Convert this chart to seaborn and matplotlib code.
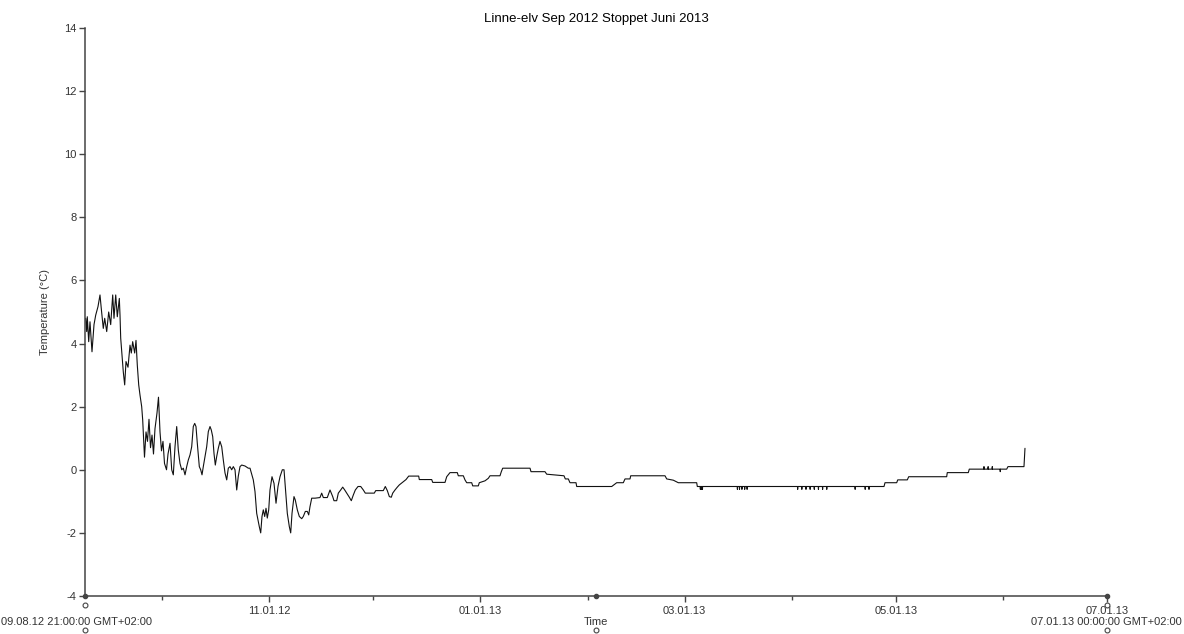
# temperature logger plot, Linne-elv
import pandas as pd
import numpy as np
import seaborn as sns
import matplotlib.pyplot as plt
import matplotlib.dates as mdates

# time axis range
t_start = pd.Timestamp('2012-09-08 21:00:00')
t_end = pd.Timestamp('2013-07-01 00:00:00')

# days since t_start, temperature (degC)
days = [0.20, 0.49, 0.66, 1.07, 1.44, 2.02, 2.60, 3.09, 3.75, 4.33, 4.71, 5.28, 5.69,
        6.27, 6.84, 7.42, 8.00, 8.37, 8.87, 9.33, 9.91, 10.11, 10.31, 11.06, 11.46,
        11.84, 12.42, 13.00, 13.37, 13.77, 14.35, 14.73, 15.10, 15.51, 15.88, 16.37,
        16.66, 17.18, 17.62, 18.05, 18.48, 18.92, 19.35, 19.78, 20.21, 20.79, 21.22,
        21.66, 22.09, 22.52, 22.96, 23.54, 23.97, 24.55, 25.04, 25.50, 25.99, 26.48,
        26.94, 27.43, 27.93, 28.39, 28.88, 29.37, 29.83, 30.32, 30.81, 31.27, 31.68,
        32.05, 32.43, 33.01, 33.41, 33.79, 34.16, 34.65, 35.14, 35.61, 36.10, 36.47,
        36.88, 37.25, 37.63, 38.03, 38.49, 38.98, 39.48, 39.94, 40.43, 40.92, 41.38,
        41.87, 42.36, 42.83, 43.32, 43.81, 44.27, 44.76, 45.25, 46.20, 47.16, 47.65,
        48.60, 49.09, 49.58, 50.33, 50.74, 51.11, 51.49, 51.89, 52.27, 52.64, 53.05,
        53.42, 54.00, 54.58, 55.16, 55.73, 56.31, 56.98, 57.47, 57.84, 58.42, 59.00,
        59.40, 59.78, 60.35, 60.73, 61.31, 61.89, 62.58, 63.04, 63.62, 64.20, 64.60,
        64.97, 65.47, 66.42, 67.86, 68.35, 68.82, 69.97, 70.75, 71.53, 71.90, 72.68,
        73.15, 73.84, 74.42, 75.00, 75.57, 76.33, 76.90, 77.48, 78.06, 78.84, 79.62,
        80.37, 80.94, 81.81, 83.54, 83.95, 86.14, 86.72, 87.30, 87.88, 88.45, 88.86,
        89.52, 90.19, 90.76, 91.34, 91.92, 92.70, 93.48, 96.36, 96.54, 100.12, 100.41,
        103.96, 104.45, 105.40, 107.51, 107.80, 109.25, 109.73, 110.23, 111.67, 111.96,
        113.58, 113.86, 115.51, 116.47, 116.95, 119.84, 120.22, 120.62, 128.51, 128.79,
        132.83, 133.33, 138.32, 138.70, 139.57, 140.05, 141.79, 141.99, 152.10, 153.54,
        155.45, 155.94, 157.38, 157.59, 167.49, 167.98, 169.89, 171.33, 176.64, 176.82,
        177.65, 177.70, 177.75, 177.95, 178.00, 178.05, 178.25, 178.30, 178.35,
        188.35, 188.40, 188.45, 188.95, 189.00, 189.05, 189.65, 189.70, 189.75,
        190.45, 190.50, 190.55, 191.15, 191.20, 191.25,
        205.75, 205.80, 205.85, 206.95, 207.00, 207.05, 208.15, 208.20, 208.25,
        209.35, 209.40, 209.45, 210.55, 210.60, 210.65, 211.75, 211.80, 211.85,
        212.95, 213.00, 213.05, 214.15, 214.20, 214.25,
        222.35, 222.40, 222.45, 225.25, 225.30, 225.35, 226.35, 226.40, 226.45,
        230.73, 231.02, 234.40, 234.69, 237.46, 237.86, 248.83, 249.00, 255.07, 255.36,
        259.55, 259.60, 259.65, 260.75, 260.80, 260.85, 261.95, 262.00, 262.05,
        264.25, 264.30, 264.35,
        266.16, 266.53, 271.15, 271.44]
temps = [4.80, 4.38, 4.85, 4.06, 4.69, 3.74, 4.60, 4.90, 5.17, 5.54, 5.10, 4.48, 4.80,
         4.38, 5.00, 4.60, 5.54, 4.80, 5.54, 4.85, 5.43, 4.90, 4.17, 3.10, 2.69,
         3.43, 3.25, 3.95, 3.70, 4.06, 3.70, 4.10, 3.32, 2.69, 2.37, 2.00,
         1.58, 0.40, 1.20, 0.90, 1.60, 0.70, 1.10, 0.50, 1.30, 1.80, 2.30,
         1.20, 0.60, 0.90, 0.20, 0.00, 0.50, 0.84, 0.00, -0.16, 0.73, 1.37,
         0.63, 0.20, 0.00, 0.05, -0.16, 0.10, 0.31, 0.47, 0.73, 1.37, 1.47,
         1.37, 0.84, 0.10, 0.00, -0.16, 0.10, 0.42, 0.73, 1.21, 1.37, 1.26,
         1.05, 0.52, 0.15, 0.42, 0.68, 0.90, 0.73, 0.31, -0.10, -0.32, 0.05,
         0.10, 0.00, 0.10, 0.00, -0.64, -0.20, 0.10, 0.15, 0.12, 0.05, 0.05,
         -0.32, -0.69, -1.38, -1.80, -2.00, -1.48, -1.27, -1.48, -1.22, -1.53, -1.27,
         -0.64, -0.22, -0.43, -1.06, -0.53, -0.22, 0.00, 0.00, -0.53, -1.38, -1.80,
         -2.00, -1.38, -0.85, -0.96, -1.27, -1.48, -1.55, -1.48, -1.32, -1.32, -1.43,
         -1.17, -0.90, -0.90, -0.88, -0.74, -0.88, -0.88, -0.64, -0.85, -0.98, -0.98,
         -0.74, -0.64, -0.55, -0.64, -0.74, -0.87, -0.98, -0.80, -0.64, -0.53, -0.53,
         -0.64, -0.74, -0.74, -0.74, -0.66, -0.66, -0.53, -0.66, -0.85, -0.87, -0.74,
         -0.64, -0.55, -0.48, -0.43, -0.38, -0.31, -0.20, -0.20, -0.31, -0.31, -0.40,
         -0.40, -0.22, -0.09, -0.09, -0.19, -0.19, -0.32, -0.41, -0.41, -0.51,
         -0.51, -0.41, -0.35, -0.27, -0.19, -0.19, -0.06, 0.05, 0.05, -0.06,
         -0.06, -0.14, -0.19, -0.29, -0.29, -0.41, -0.41, -0.53, -0.53, -0.41,
         -0.41, -0.29, -0.29, -0.19, -0.19, -0.29, -0.33, -0.41, -0.41, -0.53,
         -0.53, -0.62, -0.53, -0.53, -0.62, -0.53, -0.53, -0.62, -0.53,
         -0.53, -0.62, -0.53, -0.53, -0.62, -0.53, -0.53, -0.62, -0.53,
         -0.53, -0.62, -0.53, -0.53, -0.62, -0.53,
         -0.53, -0.62, -0.53, -0.53, -0.62, -0.53, -0.53, -0.62, -0.53,
         -0.53, -0.62, -0.53, -0.53, -0.62, -0.53, -0.53, -0.62, -0.53,
         -0.53, -0.62, -0.53, -0.53, -0.62, -0.53,
         -0.53, -0.62, -0.53, -0.53, -0.62, -0.53, -0.53, -0.62, -0.53,
         -0.53, -0.41, -0.41, -0.32, -0.32, -0.22, -0.22, -0.09, -0.09, 0.02,
         0.02, 0.10, 0.02, 0.02, 0.10, 0.02, 0.02, 0.10, 0.02,
         0.02, -0.06, 0.02,
         0.02, 0.10, 0.10, 0.68]

times = t_start + pd.to_timedelta(days, unit='D')
df = pd.DataFrame({'Time': times, 'Temperature': temps})

sns.set_style('ticks')
plt.rcParams['font.family'] = ['Liberation Sans', 'DejaVu Sans']
plt.rcParams['axes.unicode_minus'] = False
txt_color = '#333333'

fig = plt.figure(figsize=(11.84, 6.34), dpi=100)
ax = fig.add_axes([85/1184, 38/634, 1022/1184, 568/634])

sns.lineplot(data=df, x='Time', y='Temperature', ax=ax, color='#111111',
             linewidth=0.8, estimator=None, sort=False)

ax.set_xlim(t_start, t_end)
ax.set_ylim(-4, 14)
ax.set_yticks(range(-4, 15, 2))

ax.xaxis.set_major_locator(mdates.MonthLocator(bymonth=range(1, 13, 2)))
ax.xaxis.set_minor_locator(mdates.MonthLocator(bymonth=range(2, 13, 2)))
ax.xaxis.set_major_formatter(mdates.DateFormatter('%m.%d.%y'))

for s in ['top', 'right']:
    ax.spines[s].set_visible(False)
for s in ['left', 'bottom']:
    ax.spines[s].set_color('#444444')
    ax.spines[s].set_linewidth(1.1)

ax.tick_params(axis='both', which='major', labelsize=8, colors='#444444',
               labelcolor=txt_color, length=4, width=1, pad=2)
ax.tick_params(axis='x', which='minor', length=3, width=1, colors='#444444')
ax.tick_params(axis='x', which='major', pad=3)

ax.set_xlabel('')
ax.set_ylabel('Temperature (°C)', fontsize=8, color=txt_color, labelpad=10)
ax.set_title('Linne-elv Sep 2012 Stoppet Juni 2013', fontsize=9.5, color='black', pad=4)

# axis end / middle labels
fig.text(596/1184, 1 - 622/634, 'Time', ha='center', va='center', fontsize=8, color=txt_color)
fig.text(1/1184, 1 - 622/634, '09.08.12 21:00:00 GMT+02:00', ha='left', va='center',
         fontsize=8, color=txt_color)
fig.text(1182/1184, 1 - 622/634, '07.01.13 00:00:00 GMT+02:00', ha='right', va='center',
         fontsize=8, color=txt_color)

# little handle circles on the axis
ax.plot([0, 0.5, 1], [0, 0, 0], 'o', ms=3, color='#444444', transform=ax.transAxes,
        clip_on=False)
for fx, fy in [(85, 605), (85, 630), (596, 630), (1107, 605), (1107, 630)]:
    fig.lines.append(plt.Line2D([fx/1184], [1 - fy/634], marker='o', ms=3.5,
                                mfc='white', mec='#444444', mew=0.8,
                                transform=fig.transFigure))

plt.savefig('out.png', dpi=100)
